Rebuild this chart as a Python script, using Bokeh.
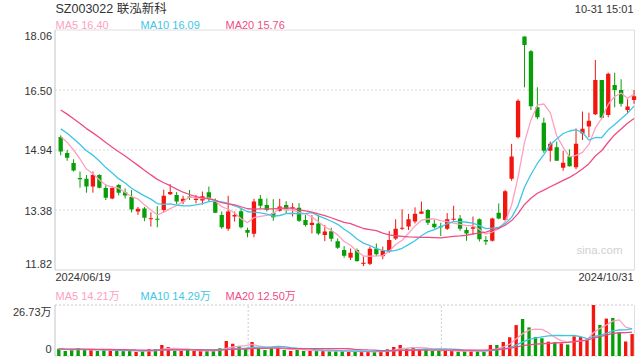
import pandas as pd
from bokeh.plotting import figure
from bokeh.models import ColumnDataSource, Label, Range1d
from bokeh.embed import file_html
from bokeh.resources import INLINE

# ---------------- data ----------------
stock_title = "SZ003022 联泓新科"
timestamp = "10-31 15:01"
start_date = "2024/06/19"
end_date = "2024/10/31"

opens = [15.28, 14.86, 14.60, 14.21, 14.19, 13.99, 14.29, 13.95, 13.68, 14.03,
         13.84, 13.72, 13.34, 13.42, 13.14, 13.15, 13.38, 13.79, 13.77, 13.60,
         13.73, 13.64, 13.63, 13.84, 13.62, 13.25, 12.89, 13.21, 13.35, 12.86,
         12.76, 13.67, 13.51, 13.30, 13.36, 13.51, 13.43, 13.44, 13.12, 12.99,
         13.03, 12.73, 12.83, 12.57, 12.34, 12.14, 12.34, 11.98, 11.98, 12.37,
         12.18, 12.30, 12.64, 12.89, 12.95, 13.08, 13.28, 13.38, 13.02, 12.96,
         12.89, 13.13, 13.16, 12.86, 12.89, 13.14, 12.60, 12.58, 13.31, 13.12,
         14.19, 15.27, 17.89, 17.51, 16.05, 15.65, 14.92, 15.01, 14.48, 14.78,
         14.49, 15.37, 15.55, 15.87, 16.76, 15.85, 16.63, 16.50, 15.98, 16.24]
highs = [15.32, 14.94, 14.70, 14.38, 14.29, 14.38, 14.31, 14.05, 14.00, 14.06,
         13.94, 13.90, 13.46, 13.46, 13.32, 13.48, 13.91, 14.05, 13.85, 13.75,
         13.90, 13.77, 13.86, 13.99, 13.68, 13.34, 13.75, 13.34, 13.42, 12.92,
         13.67, 13.77, 13.68, 13.66, 13.67, 13.61, 13.56, 13.56, 13.25, 13.25,
         13.25, 12.99, 12.92, 12.64, 12.44, 12.38, 12.38, 12.17, 12.43, 12.51,
         12.43, 12.83, 13.14, 13.40, 13.28, 13.45, 13.60, 13.40, 13.12, 13.05,
         13.30, 13.49, 13.25, 12.93, 13.21, 13.16, 12.70, 13.18, 13.55, 13.90,
         15.10, 16.26, 17.89, 17.54, 16.57, 15.78, 15.16, 15.16, 14.92, 14.96,
         15.50, 15.94, 15.91, 17.28, 16.76, 16.95, 16.95, 16.78, 16.26, 16.50]
lows = [14.80, 14.66, 14.38, 13.96, 13.83, 13.83, 13.94, 13.64, 13.66, 13.76,
        13.68, 13.32, 13.25, 13.09, 12.95, 12.93, 13.32, 13.77, 13.53, 13.53,
        13.64, 13.55, 13.52, 13.59, 13.30, 12.89, 12.84, 13.08, 12.90, 12.67,
        12.67, 13.42, 13.34, 13.10, 13.34, 13.30, 13.21, 13.07, 12.95, 12.77,
        12.73, 12.57, 12.56, 12.37, 12.14, 12.08, 12.04, 11.92, 11.95, 12.18,
        12.10, 12.27, 12.60, 12.86, 12.86, 13.03, 13.28, 12.99, 12.90, 12.70,
        12.86, 13.10, 12.84, 12.58, 12.73, 12.56, 12.47, 12.56, 13.14, 13.10,
        14.14, 15.24, 16.57, 15.98, 15.74, 14.87, 14.64, 14.66, 14.40, 14.51,
        14.44, 15.20, 15.27, 15.85, 15.74, 15.79, 16.05, 16.07, 15.89, 16.14]
closes = [14.90, 14.74, 14.41, 14.18, 13.99, 14.29, 13.96, 13.70, 13.95, 13.83,
          13.76, 13.39, 13.41, 13.18, 13.16, 13.13, 13.75, 13.85, 13.60, 13.67,
          13.71, 13.67, 13.74, 13.68, 13.31, 12.93, 13.34, 13.25, 12.93, 12.79,
          13.60, 13.49, 13.38, 13.19, 13.47, 13.40, 13.45, 13.10, 12.99, 13.05,
          12.77, 12.82, 12.63, 12.40, 12.19, 12.27, 12.05, 12.01, 12.37, 12.23,
          12.32, 12.60, 12.89, 12.92, 13.14, 13.28, 13.34, 13.05, 12.93, 12.93,
          13.14, 13.15, 12.89, 12.77, 12.93, 12.62, 12.56, 13.16, 13.16, 13.87,
          14.77, 16.22, 17.67, 16.08, 15.79, 14.92, 15.10, 14.66, 14.61, 14.52,
          15.10, 15.49, 15.70, 16.76, 15.78, 16.92, 16.50, 16.14, 16.07, 16.34]
# volume, 万
volumes = [3.84, 2.62, 3.14, 4.02, 3.14, 3.14, 2.62, 3.14, 2.97, 2.62,
           2.62, 2.62, 2.10, 2.62, 3.49, 3.49, 5.77, 4.72, 2.62, 2.62,
           3.14, 2.62, 2.62, 2.62, 2.62, 4.02, 7.86, 6.46, 5.07, 3.67,
           7.34, 4.02, 3.14, 4.02, 4.37, 3.14, 2.62, 3.67, 2.62, 2.62,
           2.62, 2.62, 2.62, 2.62, 2.62, 2.10, 2.10, 2.10, 2.62, 2.10,
           2.45, 3.49, 4.72, 5.77, 3.84, 4.37, 3.49, 3.49, 2.62, 2.62,
           2.97, 2.62, 2.27, 2.62, 2.62, 2.62, 2.10, 5.77, 5.77, 7.34,
           9.80, 16.20, 19.40, 15.00, 9.90, 9.30, 7.50, 7.20, 6.60, 6.00,
           10.30, 9.90, 8.74, 26.73, 16.25, 19.60, 19.92, 12.30, 7.60, 11.50]
# sessions before 06/19 (inferred from where the MA lines start)
prior_closes = [16.9, 16.8, 16.6, 16.7, 16.5, 16.4, 16.3, 16.4, 16.2, 15.9,
                15.9, 15.8, 15.7, 15.6, 15.45, 15.5, 15.4, 15.35, 15.3]
prior_volumes = [4.2, 3.9, 4.4, 3.8, 4.0, 3.6, 4.1, 3.7, 3.9, 3.6,
                 3.5, 4.0, 3.4, 3.8, 3.6, 3.4, 3.7, 3.3, 3.5]

price_ticks = [11.82, 13.38, 14.94, 16.50, 18.06]
price_tick_labels = ["11.82", "13.38", "14.94", "16.50", "18.06"]
vol_ticks = [0, 26.73]
vol_tick_labels = ["0", "26.73万"]
price_ma_labels = ["MA5 16.40", "MA10 16.09", "MA20 15.76"]
vol_ma_labels = ["MA5 14.21万", "MA10 14.29万", "MA20 12.50万"]
ma_periods = [5, 10, 20]

# ---------------- styles / layout (page pixels) ----------------
RED = "#f2160f"
GREEN = "#089e08"
MA_COLORS = ["#ffa0c0", "#3ec6e6", "#ef4c85"]
TXT = "#333333"
FONT = "Liberation Sans, Noto Sans CJK SC"
W, H = 640, 360

STEP = 6.4416          # px per session
PX_FIRST = 60.2        # page x of first candle
VX_FIRST = 58.3        # page x of first volume bar
BOX_L, BOX_R = 54.5, 634.0
P_TOP, P_BOT = 29.5, 269.5     # price panel: y of max / min tick
V_TOP, V_BOT = 304.5, 355.5    # volume panel: y of max / zero

n = len(closes)
xs = list(range(n))

# price scales
pmin, pmax = price_ticks[0], price_ticks[-1]
ys = (pmax - pmin) / (P_BOT - P_TOP)
y_top = pmax + P_TOP * ys
y_bot = y_top - H * ys
x_start = -PX_FIRST / STEP
x_end = x_start + W / STEP
# volume scales
vmax = vol_ticks[-1]
vs = vmax / (V_BOT - V_TOP)
v_top = vmax + V_TOP * vs
v_bot = v_top - H * vs
vx_start = -VX_FIRST / STEP
vx_end = vx_start + W / STEP

def PX(px):
    return x_start + px / STEP

def PY(py):
    return y_top - py * ys

up = [c >= o for o, c in zip(opens, closes)]
colors = [RED if u else GREEN for u in up]
body_top, body_bot = [], []
for o, c in zip(opens, closes):
    t, b = max(o, c), min(o, c)
    if t - b < ys:
        m = (t + b) / 2
        t, b = m + ys / 2, m - ys / 2
    body_top.append(t)
    body_bot.append(b)

def mas(prior, vals):
    s = pd.Series(prior + vals)
    return [s.rolling(k).mean().iloc[len(prior):].tolist() for k in ma_periods]

price_mas = mas(prior_closes, closes)
vol_mas = mas(prior_volumes, volumes)

src = ColumnDataSource(dict(x=xs, h=highs, l=lows, top=body_top, bot=body_bot,
                            color=colors, vol=volumes,
                            pm5=price_mas[0], pm10=price_mas[1], pm20=price_mas[2],
                            vm5=vol_mas[0], vm10=vol_mas[1], vm20=vol_mas[2]))

p = figure(width=W, height=H, x_range=Range1d(x_start, x_end), y_range=Range1d(y_bot, y_top),
           x_axis_type=None, y_axis_type=None, output_backend="svg", toolbar_location=None,
           min_border=0, min_border_left=0, min_border_right=0, min_border_top=0,
           min_border_bottom=0)
p.extra_x_ranges = {"vx": Range1d(vx_start, vx_end)}
p.extra_y_ranges = {"vol": Range1d(v_bot, v_top)}
p.outline_line_color = None
p.background_fill_color = "white"
p.border_fill_color = "white"
p.grid.visible = False

def lab(text, x, y, align="left", color=TXT, size="11px", **kw):
    p.add_layout(Label(x=x, y=y, text=text, text_align=align, text_baseline="middle",
                       text_font=FONT, text_font_size=size, text_color=color, **kw))

# ---- price panel frame & grid ----
bl, br = PX(BOX_L), PX(BOX_R)
for t in price_ticks[1:-1]:
    p.segment(x0=bl, y0=t, x1=br, y1=t, line_color="#dcdcdc", line_dash="2 2", line_width=1)
p.segment(x0=bl, y0=pmax, x1=br, y1=pmax, line_color="#dedede", line_width=1)
p.segment(x0=bl, y0=pmin, x1=br, y1=pmin, line_color="#d6d6d6", line_width=1.2)
p.segment(x0=br, y0=pmin, x1=br, y1=pmax, line_color="#dedede", line_width=1)
p.segment(x0=bl, y0=pmin, x1=bl, y1=pmax, line_color="#c4c4c4", line_width=1)

# ---- candles ----
p.segment(x0="x", y0="l", x1="x", y1="h", color="color", line_width=1, source=src)
p.vbar(x="x", width=0.67, top="top", bottom="bot", fill_color="color", line_color=None, source=src)
for key, col in zip(["pm5", "pm10", "pm20"], MA_COLORS):
    p.line(x="x", y=key, line_color=col, line_width=1.3, source=src)

# ---- volume panel frame & grid ----
vbl = vx_start + BOX_L / STEP
vbr = vx_start + BOX_R / STEP
for t in vol_ticks:
    p.segment(x0=vbl, y0=t, x1=vbr, y1=t, line_color="#cccccc", line_dash="2 2",
              line_width=1, x_range_name="vx", y_range_name="vol")
for k in (1, 2):
    xv = vbl + (vbr - vbl) * k / 3
    p.segment(x0=xv, y0=0, x1=xv, y1=vmax, line_color="#cccccc", line_dash="2 2",
              line_width=1, x_range_name="vx", y_range_name="vol")
p.segment(x0=vbl, y0=0, x1=vbl, y1=vmax, line_color="#c4c4c4", line_width=1,
          x_range_name="vx", y_range_name="vol")
p.segment(x0=vbr, y0=0, x1=vbr, y1=vmax, line_color="#dedede", line_width=1,
          x_range_name="vx", y_range_name="vol")

p.vbar(x="x", width=0.52, top="vol", bottom=0, fill_color="color", line_color=None,
       source=src, x_range_name="vx", y_range_name="vol")
for key, col in zip(["vm5", "vm10", "vm20"], MA_COLORS):
    p.line(x="x", y=key, line_color=col, line_width=1.3, source=src,
           x_range_name="vx", y_range_name="vol")

# ---- texts ----
lab(stock_title, PX(55), PY(8.5), size="12.5px")
lab(timestamp, PX(633), PY(8.5), align="right")
ma_x = [55, 140, 225]
for s, col, xp in zip(price_ma_labels, MA_COLORS, ma_x):
    lab(s, PX(xp), PY(24), color=col)
price_label_shift = [-6, 0.5, 0.2, 0.5, 5.5]   # px, downward positive
for t, s, d in zip(price_ticks, price_tick_labels, price_label_shift):
    lab(s, PX(51.5), t - d * ys, align="right")
lab(start_date, PX(55), PY(276.5))
lab(end_date, PX(633), PY(276.5), align="right")
lab("sina.com", PX(622), PY(249), align="right", color="#d0d0d0", size="11.5px")
for s, col, xp in zip(vol_ma_labels, MA_COLORS, ma_x):
    lab(s, PX(xp), PY(295), color=col)
vol_label_shift = [-7, 7]
for t, s, d in zip(vol_ticks, vol_tick_labels, vol_label_shift):
    p.add_layout(Label(x=vx_start + 51 / STEP, y=t - d * vs, text=s, text_align="right",
                       text_baseline="middle", text_font=FONT, text_font_size="11px",
                       text_color=TXT, x_range_name="vx", y_range_name="vol"))

open("out.html", "w").write(file_html(p, INLINE))
